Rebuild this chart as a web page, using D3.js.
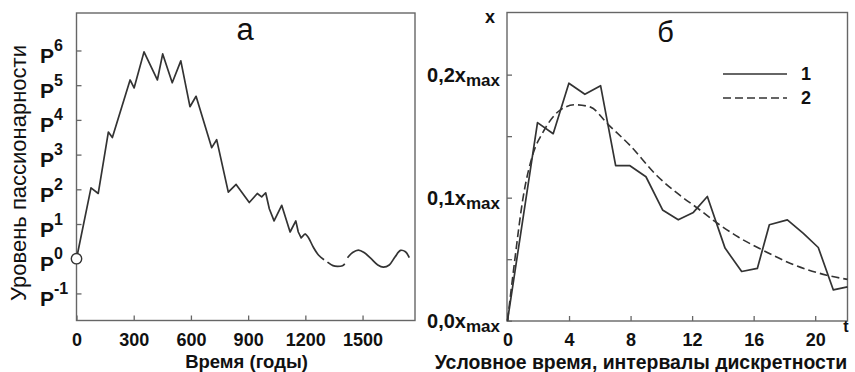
<!DOCTYPE html>
<html>
<head>
<meta charset="utf-8">
<script src="https://cdn.jsdelivr.net/npm/d3@7/dist/d3.min.js"></script>
<style>
  html, body { margin: 0; padding: 0; background: #fff; }
  svg { display: block; }
  text { font-family: "Liberation Sans", Arial, sans-serif; fill: #111; }
</style>
</head>
<body>
<svg id="chart" width="855" height="372"></svg>
<script>
// ---------- Panel а : passionarity level over time ----------
const zigYears  = [0, 76, 114, 167, 188, 281, 302, 354, 424, 452, 502, 547, 595, 627, 709, 735, 796, 837, 906, 948, 971, 992, 1011, 1036, 1076, 1120, 1150, 1163, 1178, 1198];
const zigLevels = [0, 2.04, 1.88, 3.65, 3.49, 5.15, 4.92, 5.96, 5.15, 5.9, 5.07, 5.7, 4.38, 4.68, 3.2, 3.43, 1.92, 2.14, 1.62, 1.88, 1.78, 1.9, 1.44, 1.09, 1.54, 0.77, 1.09, 0.77, 0.6, 0.72];
// smooth tail (null = gap in the line)
const tailYears  = [1198, 1215, 1242, 1270, 1298, null, 1316, 1345, 1368, 1395, 1407, null, 1421, 1448, 1478, 1510, 1545, 1580, 1609, 1640, 1670, 1699, 1725, 1745];
const tailLevels = [0.72, 0.62, 0.33, 0.1, -0.03, null, -0.1, -0.2, -0.22, -0.2, -0.15, null, 0.03, 0.18, 0.25, 0.17, 0.0, -0.18, -0.24, -0.18, 0.05, 0.24, 0.2, 0.03];
const yearTicks  = [0, 300, 600, 900, 1200, 1500];
const levelTicks = [-1, 0, 1, 2, 3, 4, 5, 6];

// ---------- Panel б : model ----------
const tSolid = [0, 1.95, 2.97, 3.99, 5.03, 6.05, 7.03, 7.96, 9.0, 10.08, 11.1, 12.08, 12.99, 14.14, 15.22, 16.24, 17.02, 18.19, 19.23, 20.2, 21.18, 22.1];
const xSolid = [0, 0.161, 0.152, 0.193, 0.184, 0.191, 0.126, 0.126, 0.117, 0.09, 0.082, 0.088, 0.101, 0.059, 0.040, 0.0425, 0.078, 0.082, 0.071, 0.0595, 0.025, 0.0275];
const tDashed = [0, 0.47, 1.0, 1.67, 2.3, 3.4, 4.4, 5.4, 6.5, 8.0, 9.7, 11.2, 12.4, 13.5, 15.0, 16.6, 18.4, 20.75, 22.1];
const xDashed = [0, 0.049, 0.099, 0.136, 0.153, 0.171, 0.1755, 0.1736, 0.16, 0.142, 0.118, 0.102, 0.091, 0.0805, 0.068, 0.0573, 0.0465, 0.037, 0.0336];
const tTicks = [0, 4, 8, 12, 16, 20];
const xTicks = [0, 0.05, 0.1, 0.15, 0.2];
const xTickLabels = {0: "0,0x", 0.1: "0,1x", 0.2: "0,2x"};
const legendLabels = ["1", "2"];

const svg = d3.select("#chart");
const LINE = "#333";
const FRAME = "#666";

// ================= Panel а =================
const xA = d3.scaleLinear().domain([0, 1775]).range([76.5, 415]);
const yA = d3.scaleLinear().domain([-1.78, 7.08]).range([320.5, 13]);

const gA = svg.append("g");
gA.append("rect").attr("x", 76.5).attr("y", 13).attr("width", 338.5).attr("height", 307.5)
  .attr("fill", "none").attr("stroke", FRAME).attr("stroke-width", 1.4);

const axA_x = gA.append("g").attr("transform", "translate(0,320.5)")
  .call(d3.axisBottom(xA).tickValues(yearTicks).tickSize(-5).tickPadding(13).tickFormat(d3.format("d")));
axA_x.select(".domain").remove();
axA_x.selectAll("line").attr("stroke", FRAME).attr("stroke-width", 1.3);
axA_x.selectAll("text").style("font-size", "18px").style("font-weight", "bold").attr("fill", "#111");

const axA_y = gA.append("g").attr("transform", "translate(76.5,0)")
  .call(d3.axisLeft(yA).tickValues(levelTicks).tickSize(-5).tickFormat(""));
axA_y.select(".domain").remove();
axA_y.selectAll("line").attr("stroke", FRAME).attr("stroke-width", 1.3);
axA_y.selectAll(".tick").each(function(d) {
  const t = d3.select(this).append("text").attr("x", 40 - 76.5).attr("y", 12)
    .attr("text-anchor", "start").attr("fill", "#111").style("font-weight", "bold");
  t.append("tspan").style("font-size", "21px").text("P");
  t.append("tspan").style("font-size", "16px").attr("dy", -12).text(String(d));
});

const zigData = zigYears.map((y, i) => ({x: y, y: zigLevels[i]}));
gA.append("path").datum(zigData)
  .attr("d", d3.line().x(d => xA(d.x)).y(d => yA(d.y)))
  .attr("fill", "none").attr("stroke", LINE).attr("stroke-width", 1.7).attr("stroke-linejoin", "round");

const tailData = tailYears.map((y, i) => ({x: y, y: tailLevels[i]}));
gA.append("path").datum(tailData)
  .attr("d", d3.line().defined(d => d.x !== null).x(d => xA(d.x)).y(d => yA(d.y)).curve(d3.curveCatmullRom))
  .attr("fill", "none").attr("stroke", LINE).attr("stroke-width", 1.7);

gA.append("circle").attr("cx", xA(zigYears[0])).attr("cy", yA(zigLevels[0])).attr("r", 5.2)
  .attr("fill", "#fff").attr("stroke", LINE).attr("stroke-width", 1.4);

gA.append("text").attr("x", 245).attr("y", 39.5).attr("text-anchor", "middle")
  .style("font-size", "31px").text("а");
gA.append("text").attr("x", 246.5).attr("y", 368).attr("text-anchor", "middle")
  .style("font-size", "18.5px").style("font-weight", "bold").text("Время (годы)");
gA.append("text").attr("transform", "translate(26,173) rotate(-90)").attr("text-anchor", "middle")
  .style("font-size", "22px").text("Уровень пассионарности");

// ================= Panel б =================
const xB = d3.scaleLinear().domain([0, 22.1]).range([507.5, 847.5]);
const yB = d3.scaleLinear().domain([0, 0.2505]).range([320.7, 12.5]);

const gB = svg.append("g");
gB.append("rect").attr("x", 507).attr("y", 12.5).attr("width", 340.5).attr("height", 308.5)
  .attr("fill", "none").attr("stroke", FRAME).attr("stroke-width", 1.4);

const axB_x = gB.append("g").attr("transform", "translate(0,321)")
  .call(d3.axisBottom(xB).tickValues(tTicks).tickSize(-5).tickPadding(12.7).tickFormat(d3.format("d")));
axB_x.select(".domain").remove();
axB_x.selectAll("line").attr("stroke", FRAME).attr("stroke-width", 1.3);
axB_x.selectAll("text").style("font-size", "18px").style("font-weight", "bold").attr("fill", "#111");

const axB_y = gB.append("g").attr("transform", "translate(507,0)")
  .call(d3.axisLeft(yB).tickValues(xTicks).tickSize(-5).tickFormat(""));
axB_y.select(".domain").remove();
axB_y.selectAll("line").attr("stroke", FRAME).attr("stroke-width", 1.3);
axB_y.selectAll(".tick").each(function(d) {
  if (xTickLabels[d] === undefined) return;
  const t = d3.select(this).append("text").attr("x", 500 - 507).attr("y", 7)
    .attr("text-anchor", "end").attr("fill", "#111").style("font-weight", "bold");
  t.append("tspan").style("font-size", "20px").text(xTickLabels[d]);
  t.append("tspan").style("font-size", "17px").attr("dy", 3.5).text("max");
});

gB.append("path").datum(tSolid.map((t, i) => ({x: t, y: xSolid[i]})))
  .attr("d", d3.line().x(d => xB(d.x)).y(d => yB(d.y)))
  .attr("fill", "none").attr("stroke", LINE).attr("stroke-width", 1.7).attr("stroke-linejoin", "round");
gB.append("path").datum(tDashed.map((t, i) => ({x: t, y: xDashed[i]})))
  .attr("d", d3.line().x(d => xB(d.x)).y(d => yB(d.y)).curve(d3.curveMonotoneX))
  .attr("fill", "none").attr("stroke", LINE).attr("stroke-width", 1.6).attr("stroke-dasharray", "8,4");

// legend
const leg = gB.append("g");
[0, 1].forEach(i => {
  const yy = 74 + i * 24;
  leg.append("line").attr("x1", 723).attr("x2", 787).attr("y1", yy).attr("y2", yy)
    .attr("stroke", LINE).attr("stroke-width", 1.7)
    .attr("stroke-dasharray", i === 1 ? "8,4" : null);
  leg.append("text").attr("x", 806).attr("y", yy + 5.5).attr("text-anchor", "middle")
    .style("font-size", "18px").style("font-weight", "bold").text(legendLabels[i]);
});

gB.append("text").attr("x", 665.5).attr("y", 41.5).attr("text-anchor", "middle")
  .style("font-size", "29px").text("б");
gB.append("text").attr("x", 490).attr("y", 23).attr("text-anchor", "middle")
  .style("font-size", "18px").style("font-weight", "bold").text("x");
gB.append("text").attr("x", 846).attr("y", 332).attr("text-anchor", "middle")
  .style("font-size", "16px").style("font-weight", "bold").text("t");
gB.append("text").attr("x", 641).attr("y", 369).attr("text-anchor", "middle")
  .style("font-size", "19.4px").style("font-weight", "bold").text("Условное время, интервалы дискретности");
</script>
</body>
</html>
